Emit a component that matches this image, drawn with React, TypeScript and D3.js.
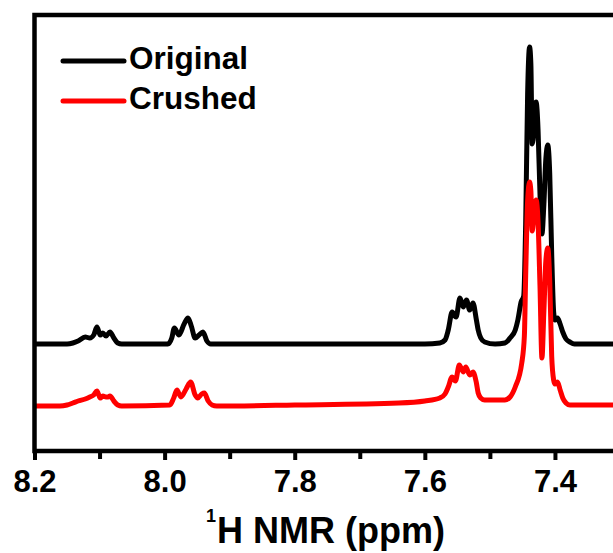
import React, { useEffect, useRef } from 'react';
import * as d3 from 'd3';

// [ppm, intensity above own baseline]
const original: [number, number][] = [
  [8.2, 0], [8.15, 0], [8.141, 1], [8.133, 3], [8.122, 7], [8.115, 6], [8.109, 9], [8.104, 17], [8.099, 9],
  [8.095, 11], [8.09, 8], [8.084, 12], [8.078, 6], [8.072, 1], [8.066, 0],
  [7.995, 0], [7.989, 6], [7.985, 16], [7.978, 9], [7.97, 20], [7.964, 26], [7.959, 18], [7.953, 6],
  [7.947, 9], [7.941, 12], [7.935, 3], [7.929, 0],
  [7.6, 0], [7.577, 1], [7.569, 4], [7.564, 14], [7.558, 32], [7.552, 27], [7.546, 46], [7.541, 37],
  [7.536, 44], [7.531, 34], [7.526, 41], [7.521, 25], [7.518, 14], [7.514, 6], [7.508, 2], [7.492, 0],
  [7.477, 1], [7.469, 6], [7.461, 14], [7.457, 24], [7.452, 42], [7.448, 48], [7.445, 120], [7.442, 250],
  [7.439, 297], [7.437, 280], [7.435, 200], [7.432, 215], [7.429, 242], [7.426, 215], [7.423, 150],
  [7.42, 110], [7.417, 140], [7.414, 185], [7.411, 199], [7.408, 170], [7.405, 90], [7.402, 32],
  [7.4, 24], [7.396, 26], [7.392, 20], [7.388, 12], [7.383, 5], [7.377, 2], [7.37, 0], [7.3, 0],
];

const crushed: [number, number][] = [
  [8.2, 0], [8.161, 0], [8.15, 1], [8.141, 3], [8.133, 5], [8.122, 7], [8.115, 9], [8.109, 11], [8.104, 15],
  [8.099, 8], [8.095, 10], [8.09, 9], [8.087, 9], [8.084, 10], [8.078, 5], [8.072, 1], [8.066, 0],
  [7.992, 1], [7.986, 8], [7.981, 16], [7.975, 9], [7.967, 17], [7.96, 24], [7.953, 11], [7.949, 8],
  [7.943, 12], [7.939, 13], [7.933, 5], [7.927, 1], [7.92, 0],
  [7.8, 1], [7.64, 3], [7.6, 5], [7.577, 8], [7.569, 12], [7.564, 19], [7.558, 29], [7.553, 25],
  [7.547, 41], [7.541, 34], [7.537, 39], [7.531, 31], [7.526, 34], [7.521, 24], [7.518, 13], [7.514, 8],
  [7.508, 6], [7.492, 6], [7.477, 6], [7.469, 9], [7.461, 19], [7.451, 43], [7.447, 70], [7.445, 130],
  [7.442, 205], [7.439, 224], [7.437, 215], [7.435, 175], [7.432, 192], [7.429, 206], [7.426, 185],
  [7.423, 120], [7.42, 48], [7.417, 95], [7.414, 145], [7.411, 158], [7.408, 125], [7.405, 50],
  [7.402, 26], [7.4, 22], [7.396, 24], [7.392, 16], [7.388, 8], [7.383, 3], [7.377, 1], [7.3, 1],
];

const seriesNames = ['Original', 'Crushed'];
const seriesColors = ['#000000', '#ff0000'];
const seriesOffsets = [107, 45];
const majorTicks = [8.2, 8.0, 7.8, 7.6, 7.4];
const minorTicks = [8.1, 7.9, 7.7, 7.5];

const FONT = "Arial, 'Liberation Sans', sans-serif";

export default function App() {
  const ref = useRef<SVGSVGElement>(null);

  useEffect(() => {
    const svg = d3.select(ref.current);
    svg.selectAll('*').remove();

    const x = d3.scaleLinear().domain([8.2, 7.3]).range([34.5, 620]);
    const y = d3.scaleLinear().domain([0, 436]).range([451, 15]);
    const [x0, x1] = x.range();
    const [yb, yt] = y.range();

    // traces
    [original, crushed].forEach((data, i) => {
      const line = d3.line<[number, number]>()
        .x(d => x(d[0]))
        .y(d => y(d[1] + seriesOffsets[i]))
        .curve(d3.curveMonotoneX);
      svg.append('path')
        .datum(data)
        .attr('d', line)
        .attr('fill', 'none')
        .attr('stroke', seriesColors[i])
        .attr('stroke-width', 5)
        .attr('stroke-linejoin', 'round');
    });

    // frame
    svg.append('path')
      .attr('d', `M${x1},${yt}H${x0}V${yb}H${x1}`)
      .attr('fill', 'none')
      .attr('stroke', '#000')
      .attr('stroke-width', 4.5)
      .attr('stroke-linecap', 'square');

    // ticks
    const gMinor = svg.append('g').attr('transform', `translate(0,${yb})`)
      .call(d3.axisBottom(x).tickValues(minorTicks).tickSize(8).tickFormat(() => ''));
    const gMajor = svg.append('g').attr('transform', `translate(0,${yb})`)
      .call(d3.axisBottom(x).tickValues(majorTicks).tickSize(9).tickFormat(d3.format('.1f')));
    [gMinor, gMajor].forEach(g => {
      g.select('.domain').remove();
      g.selectAll('.tick line').attr('stroke', '#000').attr('stroke-width', 4);
    });
    gMajor.selectAll('.tick text')
      .attr('y', 41).attr('dy', null)
      .attr('fill', '#000')
      .style('font-family', FONT)
      .style('font-size', '31px')
      .style('font-weight', 'bold');

    // axis title
    svg.append('text')
      .attr('x', 206).attr('y', 522)
      .style('font-family', FONT).style('font-size', '18px').style('font-weight', 'bold')
      .text('1');
    svg.append('text')
      .attr('x', 217).attr('y', 543)
      .style('font-family', FONT).style('font-size', '36px').style('font-weight', 'bold')
      .text('H NMR (ppm)');

    // legend
    const legend = svg.append('g');
    seriesNames.forEach((name, i) => {
      const ly = 61 + i * 40;
      legend.append('line')
        .attr('x1', 63).attr('x2', 124).attr('y1', ly).attr('y2', ly)
        .attr('stroke', seriesColors[i]).attr('stroke-width', 5).attr('stroke-linecap', 'round');
      legend.append('text')
        .attr('x', 129).attr('y', ly + 8)
        .style('font-family', FONT).style('font-size', '31.5px').style('font-weight', 'bold')
        .text(name);
    });
  }, []);

  return (
    <div style={{ position: 'absolute', left: 0, top: 0 }}>
      <svg ref={ref} width={613} height={553} style={{ display: 'block', background: '#fff' }} />
    </div>
  );
}
